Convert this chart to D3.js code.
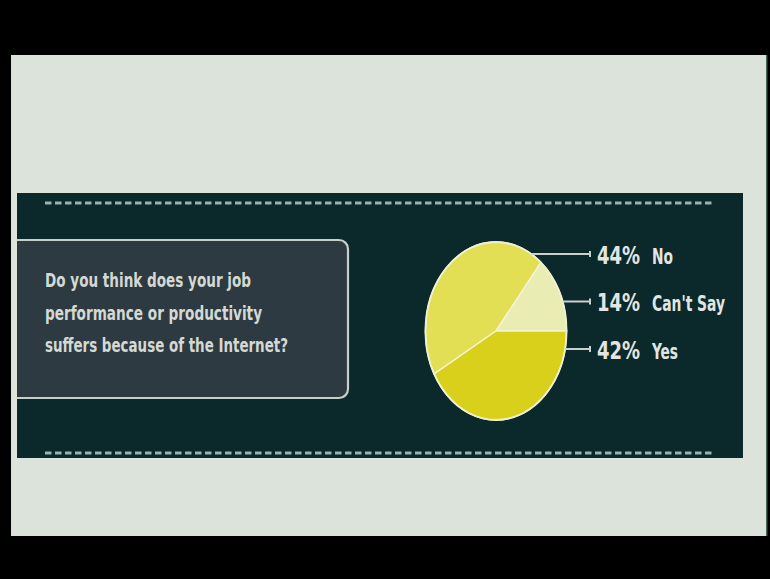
<!DOCTYPE html>
<html>
<head>
<meta charset="utf-8">
<script src="https://cdn.jsdelivr.net/npm/d3@7"></script>
<style>
  html, body { margin: 0; padding: 0; background: #000; }
  svg { display: block; }
  .cond { font-family: "Liberation Sans Narrow", "DejaVu Sans Condensed", "Liberation Sans", sans-serif; font-stretch: condensed; }
</style>
</head>
<body>
<svg id="chart" width="770" height="579"></svg>
<script>
// Survey answers
const categories = ["No", "Can't Say", "Yes"];
const percentValues = [44, 14, 42];
const percentLabels = ["44%", "14%", "42%"];
// Slices go clockwise from 3 o'clock in this order
const sliceOrder = ["Yes", "No", "Can't Say"];
const questionLines = [
  "Do you think does your job",
  "performance or productivity",
  "suffers because of the Internet?"
];

const sliceColors = { "Yes": "#d9d01c", "No": "#e3df55", "Can't Say": "#e9edb4" };

const svg = d3.select("#chart");
const W = 770, H = 579;

// Screen frame
svg.append("rect").attr("width", W).attr("height", H).attr("fill", "#000");
svg.append("rect").attr("x", 11).attr("y", 55).attr("width", 756).attr("height", 481).attr("fill", "#dce3da");
svg.append("line").attr("x1", 767).attr("x2", 767).attr("y1", 55).attr("y2", 536)
  .attr("stroke", "#1e3a30").attr("stroke-width", 1.5);

// Dark panel
svg.append("rect").attr("x", 17).attr("y", 193).attr("width", 726).attr("height", 265).attr("fill", "#0b292b");

// Dashed rules
[203, 453].forEach(y => {
  svg.append("line").attr("x1", 45).attr("x2", 714).attr("y1", y).attr("y2", y)
    .attr("stroke", "#95b4b3").attr("stroke-width", 2.8).attr("stroke-dasharray", "6.5 3.5");
});

// Question box (open on the left, rounded on the right)
const bx0 = 17, bx1 = 348, by0 = 240, by1 = 398, r = 9;
const boxPath = d3.path();
boxPath.moveTo(bx0, by0);
boxPath.lineTo(bx1 - r, by0);
boxPath.arcTo(bx1, by0, bx1, by0 + r, r);
boxPath.lineTo(bx1, by1 - r);
boxPath.arcTo(bx1, by1, bx1 - r, by1, r);
boxPath.lineTo(bx0, by1);
svg.append("path").attr("d", boxPath.toString() + "Z").attr("fill", "#2d3a42").attr("stroke", "none");
svg.append("path").attr("d", boxPath.toString()).attr("fill", "none")
  .attr("stroke", "#c7cfcb").attr("stroke-width", 2.2);

const qWidths = [206, 217, 243];
svg.selectAll("text.q").data(questionLines).join("text")
  .attr("class", "q cond")
  .attr("x", 45)
  .attr("y", (d, i) => 287 + i * 32.5)
  .attr("font-size", 20)
  .attr("font-weight", 600)
  .attr("fill", "#d4d9d3")
  .attr("textLength", (d, i) => qWidths[i])
  .attr("lengthAdjust", "spacingAndGlyphs")
  .text(d => d);

// Pie (drawn on a circle of radius ry, squeezed horizontally into an ellipse)
const cx = 496, cy = 331, rx = 70.5, ry = 89;
const data = categories.map((c, i) => ({ category: c, value: percentValues[i] }));
const pie = d3.pie()
  .value(d => d.value)
  .sort((a, b) => sliceOrder.indexOf(a.category) - sliceOrder.indexOf(b.category))
  .startAngle(Math.PI / 2)
  .endAngle(Math.PI / 2 + 2 * Math.PI);
const arc = d3.arc().innerRadius(0).outerRadius(ry);

const pieG = svg.append("g").attr("transform", `translate(${cx},${cy}) scale(${rx / ry},1)`);
pieG.selectAll("path").data(pie(data)).join("path")
  .attr("d", arc)
  .attr("fill", d => sliceColors[d.data.category])
  .attr("stroke", "#f3f3d6")
  .attr("stroke-width", 1.4)
  .attr("vector-effect", "non-scaling-stroke");
pieG.append("ellipse").attr("rx", ry).attr("ry", ry)
  .attr("fill", "none").attr("stroke", "#eef0d2").attr("stroke-width", 1.8)
  .attr("vector-effect", "non-scaling-stroke");

// Legend rows with leader lines from the pie edge
const rowY = d3.scalePoint().domain(categories).range([254, 349]);
const tickX = 590;
const catWidths = { "No": 21, "Can't Say": 73, "Yes": 26 };

categories.forEach((c, i) => {
  const y = rowY(c);
  const dy = y - cy;
  const xEdge = cx + rx * Math.sqrt(Math.max(0, 1 - (dy * dy) / (ry * ry)));
  svg.append("line").attr("x1", xEdge).attr("x2", tickX).attr("y1", y).attr("y2", y)
    .attr("stroke", "#c9d1cd").attr("stroke-width", 2);
  svg.append("line").attr("x1", tickX).attr("x2", tickX).attr("y1", y - 3).attr("y2", y + 3)
    .attr("stroke", "#c9d1cd").attr("stroke-width", 2);

  svg.append("text").attr("class", "cond")
    .attr("x", 597).attr("y", y + 9.5)
    .attr("font-size", 25).attr("font-weight", 700)
    .attr("fill", "#e2e6e2")
    .attr("textLength", 43).attr("lengthAdjust", "spacingAndGlyphs")
    .text(percentLabels[i]);
  svg.append("text").attr("class", "cond")
    .attr("x", 652).attr("y", y + 9.5)
    .attr("font-size", 21).attr("font-weight", 600)
    .attr("fill", "#e2e6e2")
    .attr("textLength", catWidths[c]).attr("lengthAdjust", "spacingAndGlyphs")
    .text(c);
});
</script>
</body>
</html>
